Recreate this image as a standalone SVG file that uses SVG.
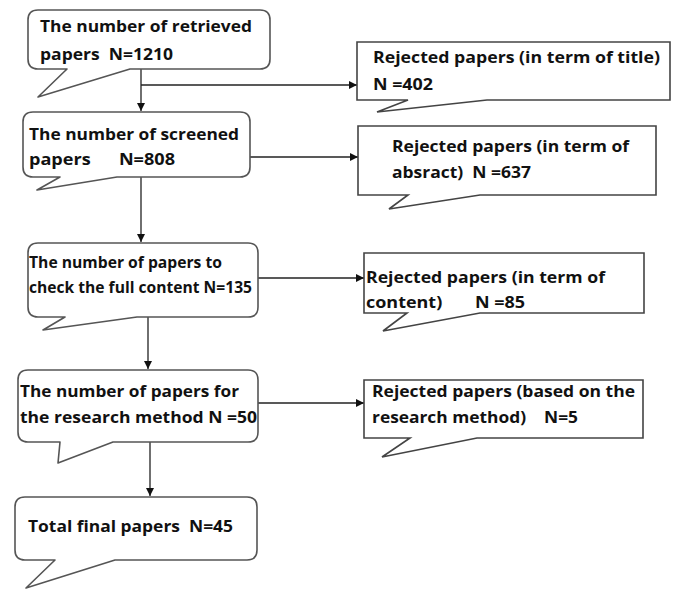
<svg xmlns="http://www.w3.org/2000/svg" width="678" height="590" viewBox="0 0 678 590">
<style>
.callout{fill:#fff;stroke:#555;stroke-width:1.6;stroke-linejoin:round}
.box{fill:#fff;stroke:#444;stroke-width:1.6}
.t{font-family:"Open Sans","Liberation Sans",sans-serif;font-weight:700;font-size:16.8px;fill:#111;white-space:pre}
.c{stroke:#222;stroke-width:1.3;fill:none}
</style>
<defs>
<marker id="ah" viewBox="0 0 10 10" refX="10" refY="5" markerWidth="8" markerHeight="8" markerUnits="userSpaceOnUse" orient="auto">
<path d="M0,0 L10,5 L0,10 Z" fill="#111"/>
</marker>
</defs>
<rect width="678" height="590" fill="#fff"/>
<g id="connectors">
<line class="c" x1="141" y1="69" x2="141" y2="111" marker-end="url(#ah)"/>
<line class="c" x1="141" y1="85" x2="357" y2="85" marker-end="url(#ah)"/>
<line class="c" x1="250" y1="157" x2="358" y2="157" marker-end="url(#ah)"/>
<line class="c" x1="141" y1="177" x2="141" y2="242" marker-end="url(#ah)"/>
<line class="c" x1="258" y1="278" x2="364" y2="278" marker-end="url(#ah)"/>
<line class="c" x1="148" y1="317" x2="148" y2="369" marker-end="url(#ah)"/>
<line class="c" x1="258" y1="403" x2="364" y2="403" marker-end="url(#ah)"/>
<line class="c" x1="150" y1="442" x2="150" y2="496" marker-end="url(#ah)"/>
</g>
<g id="n1">
<path class="callout" d="M38,10 H260 Q270,10 270,20 V59 Q270,69 260,69 H130 L38,97 L67,69 H38 Q28,69 28,59 V20 Q28,10 38,10 Z"/>
<text class="t" x="40" y="32" textLength="212" lengthAdjust="spacingAndGlyphs">The number of retrieved</text>
<text class="t" x="40" y="60" textLength="133" lengthAdjust="spacingAndGlyphs">papers  N=1210</text>
</g>
<g id="r1">
<path class="box" d="M357,42 H670 V100 H487 L377,112 L408,100 H357 Z"/>
<text class="t" x="373" y="63" textLength="287" lengthAdjust="spacingAndGlyphs">Rejected papers (in term of title)</text>
<text class="t" x="373" y="90" textLength="60" lengthAdjust="spacingAndGlyphs">N =402</text>
</g>
<g id="n2">
<path class="callout" d="M33,112 H240 Q250,112 250,122 V167 Q250,177 240,177 H117 L37,190 L60,177 H33 Q23,177 23,167 V122 Q23,112 33,112 Z"/>
<text class="t" x="29" y="140" textLength="210" lengthAdjust="spacingAndGlyphs">The number of screened</text>
<text class="t" x="29" y="165" textLength="146" lengthAdjust="spacingAndGlyphs">papers      N=808</text>
</g>
<g id="r2">
<path class="box" d="M358,126 H656 V195 H480 L389,209 L408,195 H358 Z"/>
<text class="t" x="392" y="152" textLength="237" lengthAdjust="spacingAndGlyphs">Rejected papers (in term of</text>
<text class="t" x="392" y="178" textLength="139" lengthAdjust="spacingAndGlyphs">absract)  N =637</text>
</g>
<g id="n3">
<path class="callout" d="M38,243 H248 Q258,243 258,253 V307 Q258,317 248,317 H137 L43,330 L65,317 H38 Q28,317 28,307 V253 Q28,243 38,243 Z"/>
<text class="t" x="29" y="268" textLength="193" lengthAdjust="spacingAndGlyphs">The number of papers to</text>
<text class="t" x="29" y="293" textLength="223" lengthAdjust="spacingAndGlyphs">check the full content N=135</text>
</g>
<g id="r3">
<path class="box" d="M364,253 H644 V313 H480 L383,331 L407,313 H364 Z"/>
<text class="t" x="366" y="283" textLength="239" lengthAdjust="spacingAndGlyphs">Rejected papers (in term of</text>
<text class="t" x="366" y="308" textLength="159" lengthAdjust="spacingAndGlyphs">content)       N =85</text>
</g>
<g id="n4">
<path class="callout" d="M28,370 H248 Q258,370 258,380 V432 Q258,442 248,442 H113 L58,463 L60,442 H28 Q18,442 18,432 V380 Q18,370 28,370 Z"/>
<text class="t" x="20" y="397" textLength="219" lengthAdjust="spacingAndGlyphs">The number of papers for</text>
<text class="t" x="20" y="423" textLength="237" lengthAdjust="spacingAndGlyphs">the research method N =50</text>
</g>
<g id="r4">
<path class="box" d="M364,380 H643 V438 H477 L382,457 L410,438 H364 Z"/>
<text class="t" x="372" y="397" textLength="263" lengthAdjust="spacingAndGlyphs">Rejected papers (based on the</text>
<text class="t" x="372" y="423" textLength="206" lengthAdjust="spacingAndGlyphs">research method)    N=5</text>
</g>
<g id="n5">
<path class="callout" d="M25,497 H247 Q257,497 257,507 V550 Q257,560 247,560 H115 L26,588 L55,560 H25 Q15,560 15,550 V507 Q15,497 25,497 Z"/>
<text class="t" x="28" y="532" textLength="205" lengthAdjust="spacingAndGlyphs">Total final papers  N=45</text>
</g>
</svg>
